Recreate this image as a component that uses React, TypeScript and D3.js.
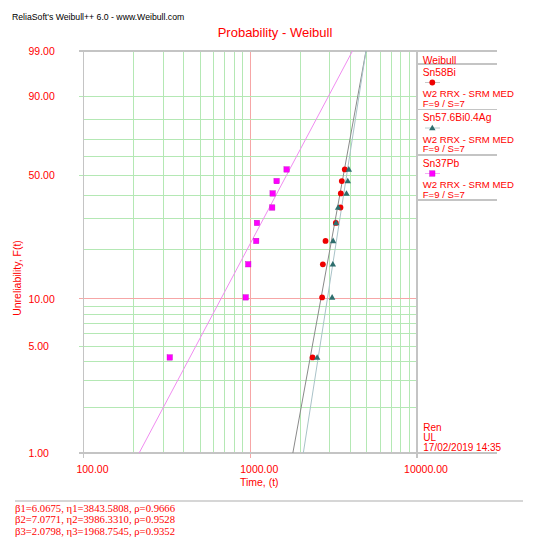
import { useEffect, useRef } from "react";
import * as d3 from "d3";

// Unreliability (median rank, %) of the 9 failures, shared by all three samples
const RANKS = [4.22, 10.21, 16.34, 22.48, 28.47, 34.55, 40.85, 46.95, 53.1];

// Failure times
const SN58BI = [2364, 2698, 2725, 2828, 3260, 3477, 3492, 3540, 3690];
const SN576BI = [2519, 3097, 3128, 3141, 3273, 3365, 3777, 3846, 3900];
const SN37PB = [329, 939, 973, 1086, 1097, 1354, 1362, 1439, 1652];

const NAMES = ["Sn58Bi", "Sn57.6Bi0.4Ag", "Sn37Pb"];
const BETAS = [6.0675, 7.0771, 2.0798];
const ETAS = [3843.5808, 3986.331, 1968.7545];
const BETA_TEXT = ["6.0675", "7.0771", "2.0798"];
const ETA_TEXT = ["3843.5808", "3986.3310", "1968.7545"];
const RHO_TEXT = ["0.9666", "0.9528", "0.9352"];

const Y_GRID = [2, 3, 4, 5, 6, 7, 8, 9, 10, 20, 30, 40, 50, 60, 70, 80, 90];
const Y_LABELS = [1, 5, 10, 50, 90, 99];
const X_LABELS = [100, 1000, 10000];
const STAMP = ["Ren", "UL", "17/02/2019 14:35"];

const RED = "#ff0000";
const GRID = "#b4e8b4";
const AXIS = "#c4c4c4";
const PINKLINE = "#f6a6a6";
const SANS = "Arial, 'Liberation Sans', sans-serif";
const SERIF = "'Times New Roman', 'Liberation Serif', serif";

// Weibull probability paper transform
const weib = (p: number) => Math.log(-Math.log(1 - p / 100));

export default function App() {
  const svgRef = useRef<SVGSVGElement | null>(null);

  useEffect(() => {
    document.body.style.margin = "0";
    if (!svgRef.current) return;
    const W = 538, H = 550;
    const svg = d3.select(svgRef.current);
    svg.selectAll("*").remove();
    svg.attr("width", W).attr("height", H).attr("viewBox", `0 0 ${W} ${H}`);
    svg.append("rect").attr("width", W).attr("height", H).attr("fill", "#fff");

    const x = d3.scaleLog().domain([100, 10000]).range([83.5, 417]);
    const yw = d3.scaleLinear().domain([weib(1), weib(99)]).range([453, 51]);
    const y = (p: number) => yw(weib(p));
    const [x0, x1] = x.range();
    const yTop = y(99), yBot = y(1);

    const g = svg.append("g").attr("shape-rendering", "crispEdges");

    // vertical grid
    for (const t of x.ticks()) {
      if (t === 100 || t === 10000) continue;
      g.append("line").attr("x1", x(t)).attr("x2", x(t)).attr("y1", yTop).attr("y2", yBot)
        .attr("stroke", t === 1000 ? PINKLINE : GRID);
    }
    // horizontal grid
    for (const p of Y_GRID) {
      const labeled = Y_LABELS.includes(p);
      g.append("line").attr("x1", labeled ? x0 - 5 : x0).attr("x2", x1).attr("y1", y(p)).attr("y2", y(p))
        .attr("stroke", p === 10 ? PINKLINE : GRID);
    }
    // frame
    for (const xx of [x0, x1]) {
      g.append("line").attr("x1", xx).attr("x2", xx).attr("y1", yTop).attr("y2", yBot + 5)
        .attr("stroke", AXIS).attr("stroke-width", 1.5);
    }
    g.append("line").attr("x1", x(1000)).attr("x2", x(1000)).attr("y1", yBot).attr("y2", yBot + 5)
      .attr("stroke", PINKLINE);
    for (const yy of [yTop, yBot]) {
      g.append("line").attr("x1", x0 - 5).attr("x2", 497).attr("y1", yy).attr("y2", yy)
        .attr("stroke", AXIS).attr("stroke-width", 1.5);
    }

    // fitted lines from beta / eta
    const lineColors = ["#8a8a8a", "#a9c2c8", "#f08cf0"];
    BETAS.forEach((b, i) => {
      const tAt = (p: number) => ETAS[i] * Math.pow(-Math.log(1 - p / 100), 1 / b);
      svg.append("line")
        .attr("x1", x(tAt(1))).attr("y1", y(1))
        .attr("x2", x(tAt(99))).attr("y2", y(99))
        .attr("stroke", lineColors[i]).attr("stroke-width", 1);
    });

    // markers
    const drawMarker = (sel: any, kind: number, cx: number, cy: number) => {
      if (kind === 0) {
        sel.append("circle").attr("cx", cx).attr("cy", cy).attr("r", 2.9).attr("fill", "#ee0000");
      } else if (kind === 1) {
        const s = d3.symbol().type(d3.symbolTriangle).size(18);
        sel.append("path").attr("d", s()!).attr("transform", `translate(${cx},${cy + 0.4})`).attr("fill", "#2e6e6e");
      } else {
        sel.append("rect").attr("x", cx - 2.7).attr("y", cy - 2.7).attr("width", 5.4).attr("height", 5.4)
          .attr("fill", "#ff00ff").attr("stroke", "#c000c0").attr("stroke-width", 0.4);
      }
    };
    const pts = svg.append("g");
    [SN58BI, SN576BI, SN37PB].forEach((times, k) => {
      times.forEach((t, j) => drawMarker(pts, k, x(t), y(RANKS[j])));
    });

    // titles and axis labels
    svg.append("text").attr("x", 12).attr("y", 19.6).attr("font-family", SANS).attr("font-size", 8.7)
      .attr("fill", "#000").text("ReliaSoft's Weibull++ 6.0 - www.Weibull.com");
    svg.append("text").attr("x", 275).attr("y", 36.8).attr("text-anchor", "middle").attr("font-family", SANS)
      .attr("font-size", 13).attr("fill", RED).text("Probability - Weibull");

    for (const p of Y_LABELS) {
      svg.append("text").attr("x", 28.5).attr("y", y(p) + 3.8).attr("font-family", SANS).attr("font-size", 10.5)
        .attr("fill", RED).text(p.toFixed(2));
    }
    svg.append("text").attr("transform", "translate(21,278) rotate(-90)").attr("text-anchor", "middle")
      .attr("font-family", SANS).attr("font-size", 10.5).attr("fill", RED).text("Unreliability, F(t)");
    for (const t of X_LABELS) {
      svg.append("text").attr("x", x(t) + 9).attr("y", 472.8).attr("text-anchor", "middle")
        .attr("font-family", SANS).attr("font-size", 10.5).attr("fill", RED).text(t.toFixed(2));
    }
    svg.append("text").attr("x", x(1000) + 9).attr("y", 486).attr("text-anchor", "middle")
      .attr("font-family", SANS).attr("font-size", 10.5).attr("fill", RED).text("Time, (t)");

    // legend column
    const lg = svg.append("g").attr("font-family", SANS).attr("font-size", 9.6).attr("fill", RED);
    const sectionTops = [64, 109.5, 155];
    for (const yy of [...sectionTops, 200]) {
      lg.append("line").attr("x1", 417).attr("x2", 497).attr("y1", yy).attr("y2", yy)
        .attr("stroke", AXIS).attr("stroke-width", 1.5).attr("shape-rendering", "crispEdges");
    }
    lg.append("text").attr("x", 422.7).attr("y", 64.2).attr("font-size", 10.3).text("Weibull");
    const legendLine = ["#c8c8c8", "#b6cccc", "#f6a8f6"];
    NAMES.forEach((name, i) => {
      const top = sectionTops[i];
      lg.append("text").attr("x", 422.7).attr("y", top + 11.8).attr("font-size", 10.3).text(name);
      lg.append("line").attr("x1", 425).attr("x2", 440).attr("y1", top + 18.5).attr("y2", top + 18.5)
        .attr("stroke", legendLine[i]);
      drawMarker(lg, i, 432.3, top + 18.5);
      lg.append("text").attr("x", 422.7).attr("y", top + 33).text("W2 RRX - SRM MED");
      lg.append("text").attr("x", 422.7).attr("y", top + 42.8).text("F=9 / S=7");
    });

    STAMP.forEach((s, i) => {
      lg.append("text").attr("x", 423.3).attr("y", 430.5 + i * 10.3).attr("font-size", 10).text(s);
    });

    // parameter box
    svg.append("line").attr("x1", 15).attr("x2", 523).attr("y1", 501).attr("y2", 501)
      .attr("stroke", "#d6d6d6").attr("stroke-width", 2);
    BETAS.forEach((_, i) => {
      svg.append("text").attr("x", 15).attr("y", 512 + i * 11.4).attr("font-family", SERIF)
        .attr("font-size", 10.7).attr("fill", RED)
        .text(`β${i + 1}=${BETA_TEXT[i]}, η${i + 1}=${ETA_TEXT[i]}, ρ=${RHO_TEXT[i]}`);
    });
  }, []);

  return <svg ref={svgRef} style={{ display: "block" }} />;
}
